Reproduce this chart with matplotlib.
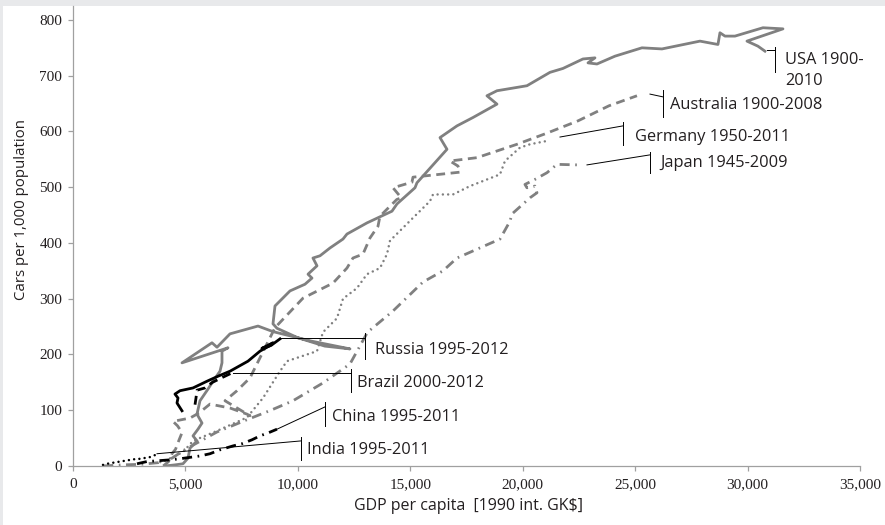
import matplotlib.pyplot as plt
from matplotlib.patches import Rectangle

# GDP per capita (1990 int. GK$) vs cars per 1,000 population
usa_gdp = [4091, 4535, 4891, 5114, 5203, 5514, 5337, 5558, 5737, 5514, 5648, 6004,
           6226, 6537, 6626, 6626, 6893, 4847, 6181, 6404, 6982, 8227, 8894, 10600,
           12318, 11200, 10000, 9072, 8894, 8983, 9650, 10317, 10628, 10451, 10851,
           10672, 10984, 11428, 12007, 12184, 13074, 14186, 14408, 15209, 15298,
           16632, 16321, 17076, 17788, 18855, 18410, 18855, 20189, 21212, 21790,
           22679, 23213, 22902, 23302, 24102, 25303, 26193, 27883, 28683, 28772,
           28995, 29439, 30684, 31574, 29972, 30459, 30773]
usa_cars = [0, 2, 4, 14, 32, 45, 54, 66, 77, 93, 117, 138,
            152, 170, 185, 206, 212, 185, 221, 213, 237, 251, 241, 224,
            210, 215, 230, 247, 255, 287, 314, 326, 337, 344, 359,
            373, 377, 391, 407, 416, 436, 457, 470, 499, 508,
            568, 589, 610, 625, 649, 664, 673, 682, 706, 713,
            730, 732, 723, 721, 735, 750, 748, 762, 756, 777,
            771, 771, 786, 784, 762, 753, 744]

aus_gdp = [4013, 4250, 4400, 4560, 4700, 4850, 4650, 4447, 5203, 5600, 6090, 6982,
           7738, 7871, 6760, 7293, 7871, 8538, 8983, 10228, 11562, 12184, 12451,
           12896, 13208, 13564, 13652, 14400, 14600, 14230, 15075, 15120, 17210,
           17121, 16765, 17966, 19745, 21079, 22459, 23835, 25081]
aus_cars = [0, 8, 22, 30, 45, 60, 72, 80, 86, 95, 111, 104,
            93, 90, 117, 135, 158, 212, 248, 301, 328, 355, 373,
            380, 409, 430, 448, 478, 481, 499, 509, 518, 527,
            538, 547, 553, 577, 597, 619, 646, 664]

ger_gdp = [3881, 4400, 4891, 5337, 6404, 7738, 8450, 9205, 9517, 10851, 11118,
           11740, 12007, 12629, 13074, 13652, 13964, 14097, 15120, 15876, 16010,
           16899, 17655, 18989, 19211, 19878, 20323, 21079]
ger_cars = [7, 15, 25, 45, 63, 87, 122, 170, 188, 206, 240,
            265, 300, 319, 344, 355, 380, 404, 445, 475, 487,
            487, 502, 523, 547, 571, 577, 583]

jpn_gdp = [1346, 2200, 3000, 3800, 4400, 5000, 6404, 7738, 8800, 9783, 11118,
           12318, 13100, 14231, 15565, 16454, 17076, 18989, 19433, 19522, 20323,
           20634, 20545, 20189, 20100, 20545, 21079, 21523, 22457]
jpn_cars = [0, 2, 3, 6, 14, 30, 61, 83, 100, 117, 149,
            183, 240, 278, 330, 350, 373, 407, 439, 452, 481,
            490, 502, 499, 505, 514, 526, 541, 540]

rus_gdp = [4847, 4625, 4669, 4535, 4758, 5337, 5958, 6448, 6982, 7782, 8316,
           8671, 8894, 8400, 8800, 9205]
rus_cars = [99, 113, 122, 129, 135, 140, 152, 161, 170, 188, 206,
            214, 221, 211, 216, 228]

bra_gdp = [5426, 5470, 5514, 5870, 6200, 6600, 7071]
bra_cars = [110, 122, 136, 140, 150, 158, 167]

chn_gdp = [2846, 3291, 4313, 4758, 5648, 6093, 6537, 7116, 7516, 7960, 8316, 8716, 9072]
chn_cars = [4, 8, 11, 13, 18, 22, 29, 36, 40, 47, 54, 60, 66]

ind_gdp = [1334, 1512, 1800, 2100, 2400, 2700, 3000, 3424, 3736]
ind_cars = [2, 4, 6, 8, 10, 12, 13, 16, 21]

GRAY = '#808080'
SANS = 'Open Sans'
SERIF = 'Liberation Serif'
DASH = (0, (3.2, 2))
DOT = (0, (0.01, 2.1))
DASHDOT = (0, (3.6, 2, 0.6, 2))

fig = plt.figure(figsize=(8.85, 5.25), dpi=100, facecolor='#e8e9eb')
fig.patches.append(Rectangle((3 / 885, 0), 1, 519 / 525, transform=fig.transFigure,
                             facecolor='white', edgecolor='none', zorder=0))
ax = fig.add_axes([73 / 885, 59 / 525, 787 / 885, 460 / 525])
ax.set_facecolor('none')
ax.set_zorder(2)

lw = 2.0
ax.plot(usa_gdp, usa_cars, color=GRAY, lw=lw, solid_joinstyle='round')
ax.plot(aus_gdp, aus_cars, color=GRAY, lw=lw, linestyle=DASH)
ax.plot(ger_gdp, ger_cars, color=GRAY, lw=1.8, linestyle=DOT, dash_capstyle='round')
ax.plot(jpn_gdp, jpn_cars, color=GRAY, lw=lw, linestyle=DASHDOT)
ax.plot(rus_gdp, rus_cars, color='black', lw=lw, solid_joinstyle='round')
ax.plot(bra_gdp, bra_cars, color='black', lw=lw, linestyle=DASH)
ax.plot(chn_gdp, chn_cars, color='black', lw=lw, linestyle=DASHDOT)
ax.plot(ind_gdp, ind_cars, color='black', lw=1.8, linestyle=DOT, dash_capstyle='round')

# leader lines: start, elbow, bar bottom/top, text position
labels = [
    ('USA 1900-\n2010', (30864, 746), (31220, 746), (707, 752), (31664, 710)),
    ('Australia 1900-2008', (25660, 667), (26238, 662), (626, 674), (26550, 647)),
    ('Germany 1950-2011', (21658, 590), (24460, 610), (576, 617), (24994, 590)),
    ('Japan 1945-2009', (22858, 540), (25660, 558), (526, 563), (26105, 543)),
    ('Russia 1995-2012', (9206, 230), (12986, 230), (192, 239), (13431, 208)),
    ('Brazil 2000-2012', (7116, 167), (12363, 167), (133, 174), (12630, 149)),
    ('China 1995-2011', (9072, 66), (11207, 106), (72, 115), (11518, 88)),
    ('India 1995-2011', (3736, 22), (10140, 45), (11, 52), (10407, 29)),
]
for text, p0, p1, bar, tpos in labels:
    ax.plot([p0[0], p1[0]], [p0[1], p1[1]], color='black', lw=0.7)
    ax.plot([p1[0], p1[0]], list(bar), color='black', lw=0.7)
    ax.text(tpos[0], tpos[1], text, family=SANS, fontsize=11.8, color='#231f20',
            ha='left', va='center', linespacing=1.4)

ax.set_xlim(0, 35000)
ax.set_ylim(0, 825)
ax.set_xticks(range(0, 35001, 5000))
ax.set_yticks(range(0, 801, 100))
ax.set_xticklabels([f'{v:,}' for v in range(0, 35001, 5000)])

for side in ['top', 'right']:
    ax.spines[side].set_visible(False)
for side in ['left', 'bottom']:
    ax.spines[side].set_color('#a0a0a0')
    ax.spines[side].set_linewidth(0.9)
ax.tick_params(axis='both', direction='out', length=3.8, width=0.9, color='#a0a0a0',
               labelsize=11, labelcolor='#231f20')
ax.tick_params(axis='x', pad=5)
ax.tick_params(axis='y', pad=4)
for lab in ax.get_xticklabels() + ax.get_yticklabels():
    lab.set_family(SERIF)

fig.text(468 / 885, 1 - 506 / 525, 'GDP per capita  [1990 int. GK$]', family=SANS,
         fontsize=11.5, color='#231f20', ha='center', va='center')
fig.text(22 / 885, 1 - 209 / 525, 'Cars per 1,000 population', family=SANS,
         fontsize=10.8, color='#231f20', ha='center', va='center', rotation=90)

fig.savefig('out.png', dpi=100, facecolor=fig.get_facecolor())
